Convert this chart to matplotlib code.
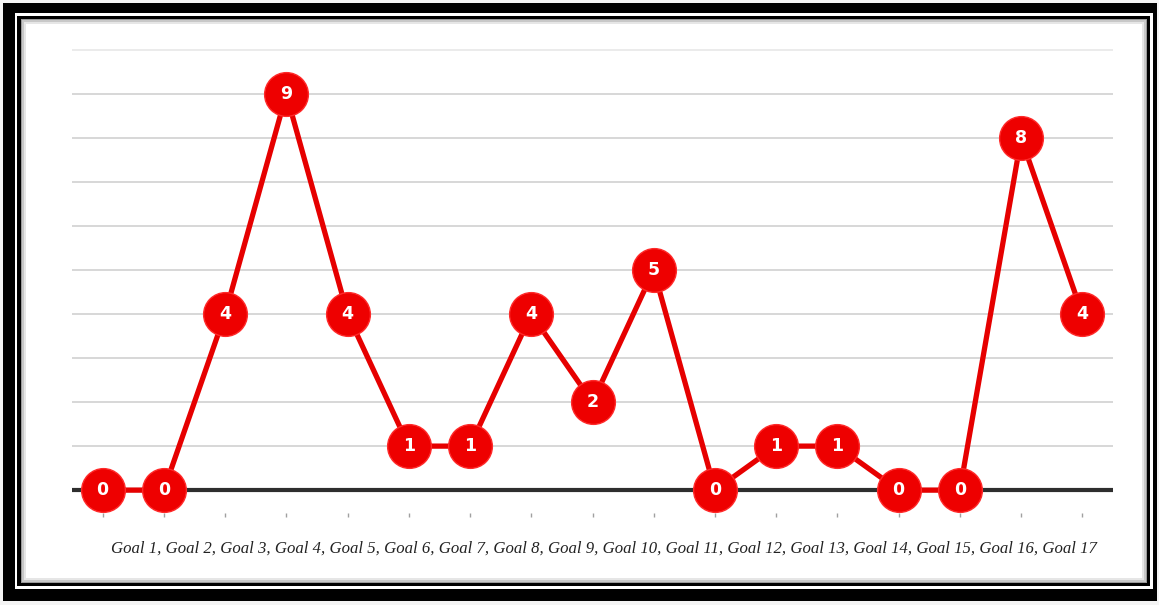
import matplotlib
matplotlib.use("Agg")
import matplotlib.pyplot as plt
from matplotlib.patches import Rectangle

categories = [f"Goal {i}" for i in range(1, 18)]
values = [0, 0, 4, 9, 4, 1, 1, 4, 2, 5, 0, 1, 1, 0, 0, 8, 4]
axis_label = ", ".join(categories)

W, H = 1159, 605
fig = plt.figure(figsize=(W / 100, H / 100), dpi=100)
fig.patch.set_facecolor("white")

# frame (background axes in pixel coordinates)
bg = fig.add_axes([0, 0, 1, 1], zorder=-5)
bg.set_xlim(0, W)
bg.set_ylim(H, 0)
bg.axis("off")
def rect(x0, y0, x1, y1, c):
    bg.add_patch(Rectangle((x0, y0), x1 - x0, y1 - y0, facecolor=c, edgecolor="none"))
rect(0, 0, W, H, "#f4f4f4")
rect(3, 3, 1157, 601, "black")
rect(15, 13, 1153, 589, "white")
rect(17, 16, 1150, 586, "black")
rect(21, 19, 1147, 583, "#9a9a9a")
rect(22, 20, 1146, 582, "#c8c8c8")
rect(24, 22, 1144, 580, "#e6e6e6")
rect(26, 24, 1142, 578, "white")

ax = fig.add_axes([72 / W, 92 / H, (1113 - 72) / W, 465.1 / H])
ax.set_facecolor("none")
x = list(range(len(values)))
ax.set_xlim(-0.5, 16.5)
ax.set_ylim(-0.52, 10.05)
for g in range(1, 11):
    ax.axhline(g, color="#cdcdcd" if g < 10 else "#e6e6e6", lw=1.1, zorder=1)
ax.axhline(0, color="#2e2e2e", lw=3, zorder=2)
ax.plot(x, values, color="#e60000", lw=3.8, zorder=3,
        marker="o", markersize=31.5, markerfacecolor="#ee0000",
        markeredgecolor="#ff2a2a", markeredgewidth=1)
for xi, v in zip(x, values):
    ax.text(xi, v, str(v), color="white", fontsize=12.5, fontweight="bold",
            ha="center", va="center", zorder=5, family="DejaVu Sans")
for s in ax.spines.values():
    s.set_visible(False)
ax.set_yticks([])
ax.set_xticks(x)
ax.set_xticklabels([])
ax.tick_params(axis="x", length=3, width=1, color="#a0a0a0")

fig.text(604 / W, 1 - 549 / H, axis_label, ha="center", va="center",
         fontsize=12.1, style="italic", family="Liberation Serif", color="#222222")

fig.savefig("out.png", dpi=100)
